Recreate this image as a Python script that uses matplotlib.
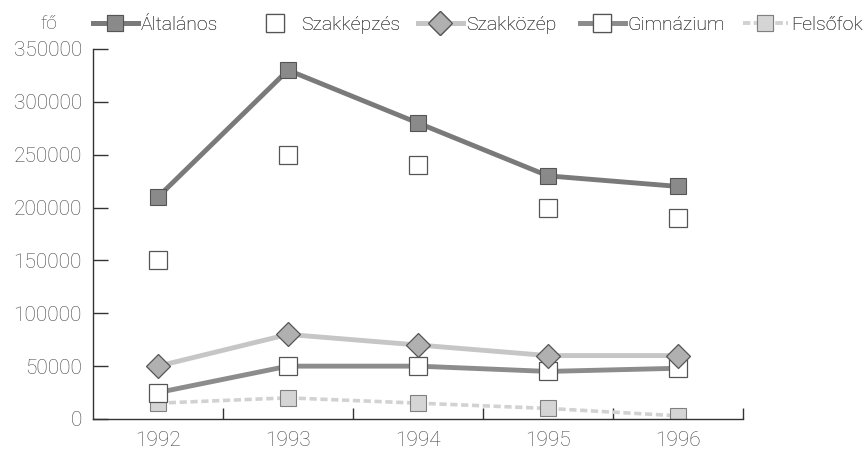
import matplotlib
matplotlib.use("Agg")
import matplotlib.pyplot as plt

# ---------------------------------------------------------------------------
# Data
# ---------------------------------------------------------------------------
years = ["1992", "1993", "1994", "1995", "1996"]
altalanos = [210000, 330000, 280000, 230000, 220000]
szakkepzes = [150000, 250000, 240000, 200000, 190000]
szakkozep = [50000, 80000, 70000, 60000, 60000]
gimnazium = [25000, 50000, 50000, 45000, 48000]
felsofok = [15000, 20000, 15000, 10000, 3000]
y_ticks = [0, 50000, 100000, 150000, 200000, 250000, 300000, 350000]

plt.rcParams["font.family"] = ["Roboto", "DejaVu Sans"]
plt.rcParams["font.weight"] = "light"
TXT = "#444444"

W, H = 864, 449
fig = plt.figure(figsize=(W / 100, H / 100), dpi=100)
ax = fig.add_axes([93 / W, 30 / H, 650 / W, 370 / H])

x = list(range(len(years)))

ln_felso, = ax.plot(x, felsofok, color="#d2d2d2", lw=2.6, ls=(0, (2, 1)),
                    marker="s", ms=11, mfc="#d5d5d5", mec="#808080", mew=0.8,
                    label="Felsőfok", zorder=2)
ln_gimn, = ax.plot(x, gimnazium, color="#8c8c8c", lw=3.5, marker="s", ms=13,
                   mfc="white", mec="#555555", mew=0.9, label="Gimnázium",
                   zorder=3)
ln_kozep, = ax.plot(x, szakkozep, color="#c6c6c6", lw=3.5, marker="D", ms=12,
                    mfc="#b0b0b0", mec="#555555", mew=0.9, label="Szakközép",
                    zorder=4)
ln_kepz, = ax.plot(x, szakkepzes, ls="none", marker="s", ms=13, mfc="white",
                   mec="#555555", mew=0.9, label="Szakképzés", zorder=3)
ln_alt, = ax.plot(x, altalanos, color="#7a7a7a", lw=3.5, marker="s", ms=12,
                  mfc="#8a8a8a", mec="#555555", mew=0.8, label="Általános",
                  zorder=5)

ax.set_xlim(-0.5, 4.5)
ax.set_ylim(0, 350000)
ax.set_yticks(y_ticks)
ax.set_yticklabels([str(v) for v in y_ticks])
ax.set_xticks(x)
ax.set_xticklabels(years)
ax.set_xticks([0.5, 1.5, 2.5, 3.5, 4.5], minor=True)

ax.spines["top"].set_visible(False)
ax.spines["right"].set_visible(False)
for s in ("left", "bottom"):
    ax.spines[s].set_color("#333333")
    ax.spines[s].set_linewidth(1.0)

ax.tick_params(axis="y", direction="in", length=11, width=1, color="#333333",
               labelsize=15, labelcolor=TXT, pad=8)
ax.tick_params(axis="x", which="major", length=0, labelsize=15,
               labelcolor=TXT, pad=9)
ax.tick_params(axis="x", which="minor", direction="in", length=8, width=1,
               color="#333333")

# legend row: one small legend per series, placed where the reference has it
legend_items = [(ln_alt, 93), (ln_kepz, 253), (ln_kozep, 418),
                (ln_gimn, 580), (ln_felso, 743)]
for handle, x_px in legend_items:
    leg = fig.legend([handle], [handle.get_label()], loc="center left",
                     bbox_to_anchor=(x_px / W, 1 - 25 / H),
                     frameon=False, fontsize=14, labelcolor=TXT,
                     handlelength=2.3, handletextpad=0.15, borderpad=0,
                     borderaxespad=0)
    fig.add_artist(leg)

fig.text(49 / W, 1 - 24 / H, "fő", fontsize=14, color=TXT,
         ha="center", va="center")

fig.savefig("out.png", dpi=100)
